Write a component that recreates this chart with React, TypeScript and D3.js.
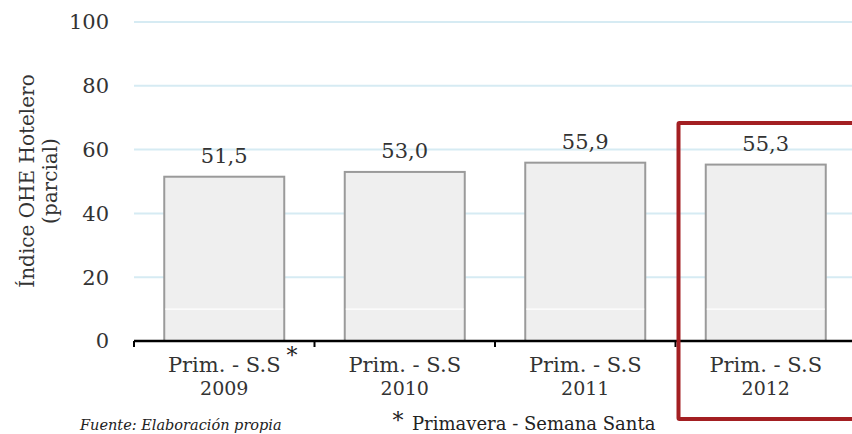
import React from "react";
import * as d3 from "d3";

const categories = ["2009", "2010", "2011", "2012"];
const catLine1 = ["Prim. - S.S", "Prim. - S.S", "Prim. - S.S", "Prim. - S.S"];
const values = [51.5, 53.0, 55.9, 55.3];
const valueLabels = ["51,5", "53,0", "55,9", "55,3"];
const yTicks = [0, 20, 40, 60, 80, 100];
const yTitle1 = "Índice OHE Hotelero";
const yTitle2 = "(parcial)";
const sourceNote = "Fuente: Elaboración propia";
const starNote = "Primavera - Semana Santa";
const highlighted = "2012";

const W = 852;
const H = 434;
const FONT = "Georgia, 'DejaVu Serif', serif";

export default function App() {
  const x = d3.scaleBand<string>().domain(categories).range([134, 856]).paddingInner(0).paddingOuter(0);
  const y = d3.scaleLinear().domain([0, 100]).range([341, 22]);
  const bw = 120;
  const hx = x(highlighted)!;

  return (
    <svg width={W} height={H} style={{ position: "absolute", left: 0, top: 0, background: "#fff" }} fontFamily={FONT}>
      {/* gridlines */}
      {yTicks.filter((t) => t > 0).map((t) => (
        <line key={t} x1={134} x2={W} y1={y(t)} y2={y(t)} stroke="#d6ebf3" strokeWidth={2} />
      ))}
      {/* y tick labels */}
      {yTicks.map((t) => (
        <text key={t} x={109} y={y(t)} dy="0.35em" textAnchor="end" fontSize={21} fill="#333">
          {t}
        </text>
      ))}
      {/* y title */}
      <g transform={`translate(27,181) rotate(-90)`}>
        <text x={0} y={0} dy="0.35em" textAnchor="middle" fontSize={20} fill="#333">{yTitle1}</text>
        <text x={0} y={23} dy="0.35em" textAnchor="middle" fontSize={20} fill="#333">{yTitle2}</text>
      </g>
      {/* bars */}
      {categories.map((c, i) => {
        const cx = x(c)! + x.bandwidth() / 2;
        return (
          <g key={c}>
            <rect x={cx - bw / 2} y={y(values[i])} width={bw} height={y(0) - y(values[i])} fill="#efefef" stroke="#9a9a9a" strokeWidth={2} />
            <line x1={cx - bw / 2 + 1} x2={cx + bw / 2 - 1} y1={y(10)} y2={y(10)} stroke="#fff" strokeWidth={1.2} />
            <text x={cx} y={y(values[i]) - 14} textAnchor="middle" fontSize={21} fill="#333">{valueLabels[i]}</text>
            <text x={cx} y={372} textAnchor="middle" fontSize={21} fill="#333">{catLine1[i]}</text>
            <text x={cx} y={395} textAnchor="middle" fontSize={19} fill="#333">{c}</text>
          </g>
        );
      })}
      {/* x axis */}
      <line x1={134} x2={W} y1={341} y2={341} stroke="#000" strokeWidth={2.5} />
      {categories.map((c) => (
        <line key={c} x1={x(c)!} x2={x(c)!} y1={341} y2={347} stroke="#000" strokeWidth={2} />
      ))}
      {/* asterisk */}
      <text x={292} y={363} textAnchor="middle" fontSize={22} fill="#222">*</text>
      {/* highlight box */}
      <rect x={hx + 3} y={123} width={W} height={296} fill="none" stroke="#a31f22" strokeWidth={4} rx={1} />
      {/* footnotes */}
      <text x={80} y={430} fontSize={14.5} fontStyle="italic" fill="#222">{sourceNote}</text>
      <text x={398} y={428} textAnchor="middle" fontSize={22} fill="#222">*</text>
      <text x={412} y={430} fontSize={18} fill="#222">{starNote}</text>
    </svg>
  );
}
